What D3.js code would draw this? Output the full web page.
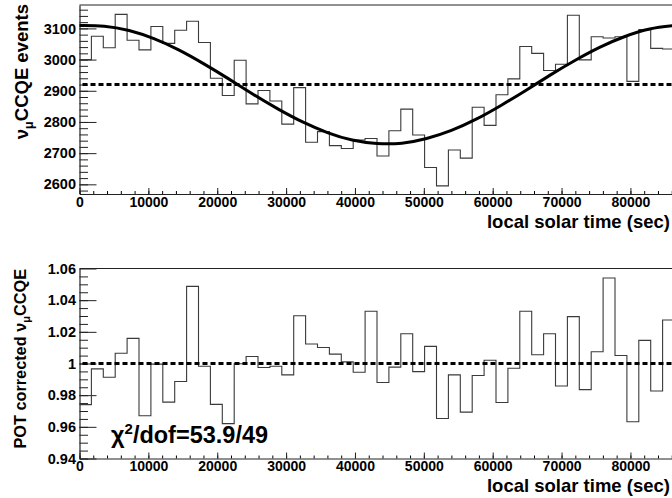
<!DOCTYPE html>
<html><head><meta charset="utf-8">
<script src="https://cdn.jsdelivr.net/npm/d3@7"></script>
<style>
html,body{margin:0;padding:0;background:#fff;overflow:hidden}
text{font-family:"Liberation Sans",Arial,Helvetica,sans-serif;font-weight:bold;fill:#000}
</style></head>
<body>
<svg id="c" width="672" height="498"></svg>
<script>
// ---- data ----
const binWidth = 1728;           // seconds per bin (86400 / 50)
const nBins = 50;
const eventsPerBin = [3000,3075,3038,3145,3062,3031,3106,3052,3094,3123,
  3055,2940,2885,2998,2858,2901,2867,2793,2910,2735,
  2769,2724,2715,2742,2747,2691,2772,2841,2758,2654,
  2595,2710,2684,2847,2789,2887,2938,3042,3020,2965,
  2985,3142,2999,3073,3069,3073,2930,3096,3036,3034];
const fitTimes = [0,3600,7200,10800,14400,18000,21600,25200,28800,32400,36000,39600,43200,
  46800,50400,54000,57600,61200,64800,68400,72000,75600,79200,82800,86400];
const fitValues = [3109,3107,3093,3067,3031,2987,2939,2889,2842,2800,2766,2742,2731,
  2732,2747,2773,2809,2853,2901,2951,2998,3040,3074,3098,3109];
const meanEvents = 2920;
const ratioPerBin = [0.974,0.9966,0.9913,1.0065,1.0159,0.967,0.9996,0.9756,0.9886,1.0487,
  0.9983,0.9742,0.962,0.9998,1.0044,0.9975,0.9983,0.9928,1.0302,1.0123,
  1.0101,1.0059,1.001,0.9945,1.033,0.988,0.9977,1.0188,0.9949,1.0108,
  0.9653,0.9928,0.9693,0.9924,1.0021,0.9754,0.997,1.033,1.0055,1.0188,
  0.9858,1.0296,0.9835,1.0074,1.054,1.0051,0.9632,1.0146,0.9826,1.0275];
const ratioRef = 1.0;
const xMajorTicks = [0,10000,20000,30000,40000,50000,60000,70000,80000];
const topYTicks = [2600,2700,2800,2900,3000,3100];
const botYTicks = [0.94,0.96,0.98,1.00,1.02,1.04,1.06];
const botYLabels = ["0.94","0.96","0.98","1","1.02","1.04","1.06"];
const chiText = {chi:"χ", sup:"2", rest:"/dof=53.9/49"};

// ---- layout ----
const svg = d3.select("#c");
const X0 = 79.5, X1 = 674.5;
const x = d3.scaleLinear().domain([0, 86400]).range([X0, X1]);
const yTop = d3.scaleLinear().domain([2569, 3175]).range([194, 5]);
const yBot = d3.scaleLinear().domain([0.94, 1.06]).range([458.5, 268.5]);

function steps(vals){
  const pts = [];
  vals.forEach((v,i)=>{ pts.push([i*binWidth, v]); pts.push([(i+1)*binWidth, v]); });
  return pts;
}

function panel(y, yTicksMajor, yMinorStep, yFmt, yBottomPx, yTopPx){
  const g = svg.append("g");
  g.append("path").attr("d", `M${X0},${yTopPx}H${X1}V${yBottomPx}`)
    .attr("fill","none").attr("stroke","#222").attr("stroke-width",1.2);
  const xMinor = d3.axisBottom(x).tickValues(d3.range(0, 86401, 2000))
    .tickSizeInner(-3).tickSizeOuter(0).tickFormat("");
  g.append("g").attr("transform",`translate(0,${yBottomPx})`).call(xMinor)
    .call(s=>s.select(".domain").remove());
  const xMajor = d3.axisBottom(x).tickValues(xMajorTicks)
    .tickSizeInner(-6).tickSizeOuter(0).tickPadding(3).tickFormat(d3.format("d"));
  const gx = g.append("g").attr("transform",`translate(0,${yBottomPx})`).call(xMajor);
  gx.select(".domain").attr("stroke","#222").attr("stroke-width",1.2);
  gx.selectAll(".tick line").attr("stroke","#222");
  gx.selectAll("text").style("font-size","14px");
  const [d0,d1] = y.domain();
  const minorVals = d3.range(Math.ceil(d0/yMinorStep-1e-9)*yMinorStep, d1, yMinorStep);
  const yMinor = d3.axisLeft(y).tickValues(minorVals).tickSizeInner(-8.5).tickSizeOuter(0).tickFormat("");
  g.append("g").attr("transform",`translate(${X0},0)`).call(yMinor)
    .call(s=>s.select(".domain").remove())
    .selectAll("line").attr("stroke","#222");
  const yMajor = d3.axisLeft(y).tickValues(yTicksMajor).tickSizeInner(-17).tickSizeOuter(0)
    .tickPadding(3.5).tickFormat(yFmt);
  const gy = g.append("g").attr("transform",`translate(${X0},0)`).call(yMajor);
  gy.select(".domain").attr("stroke","#222").attr("stroke-width",1.2);
  gy.selectAll(".tick line").attr("stroke","#222");
  gy.selectAll("text").style("font-size","14.5px");
  return g;
}

// ---- top panel ----
const gt = panel(yTop, topYTicks, 20, d3.format("d"), 194, 5);
gt.append("path").datum(steps(eventsPerBin))
  .attr("d", d3.line().x(d=>x(d[0])).y(d=>yTop(d[1])))
  .attr("fill","none").attr("stroke","#3a3a3a").attr("stroke-width",1.1);
gt.append("line").attr("x1", x(0)+3).attr("x2", X1)
  .attr("y1", yTop(meanEvents)).attr("y2", yTop(meanEvents))
  .attr("stroke","#000").attr("stroke-width",3).attr("stroke-dasharray","5,3");
gt.append("path").datum(fitTimes.map((t,i)=>[t, fitValues[i]]))
  .attr("d", d3.line().x(d=>x(d[0])).y(d=>yTop(d[1])).curve(d3.curveNatural))
  .attr("fill","none").attr("stroke","#000").attr("stroke-width",3);

// ---- bottom panel ----
const gb = panel(yBot, botYTicks, 0.005, (d,i)=>botYLabels[i], 458.5, 268.5);
gb.append("path").datum(steps(ratioPerBin))
  .attr("d", d3.line().x(d=>x(d[0])).y(d=>yBot(d[1])))
  .attr("fill","none").attr("stroke","#3a3a3a").attr("stroke-width",1.1);
gb.append("line").attr("x1", x(0)+3).attr("x2", X1)
  .attr("y1", yBot(ratioRef)).attr("y2", yBot(ratioRef))
  .attr("stroke","#000").attr("stroke-width",3).attr("stroke-dasharray","5,3");

// ---- titles ----
function xTitle(yb){
  svg.append("text").attr("x", 670).attr("y", yb).attr("text-anchor","end")
    .style("font-size","18.5px").text("local solar time (sec)");
}
xTitle(228);
xTitle(492);

const yt1 = svg.append("text").attr("transform","translate(28,4) rotate(-90)")
  .attr("text-anchor","end").style("font-size","18.5px");
yt1.append("tspan").text("ν");
yt1.append("tspan").attr("dy",4.5).style("font-size","12.5px").text("μ");
yt1.append("tspan").attr("dy",-4.5).text("CCQE events");

const yt2 = svg.append("text").attr("transform","translate(25.5,269) rotate(-90)")
  .attr("text-anchor","end").style("font-size","16.3px");
yt2.append("tspan").text("POT corrected ");
yt2.append("tspan").text("ν");
yt2.append("tspan").attr("dy",4).style("font-size","11px").text("μ");
yt2.append("tspan").attr("dy",-4).text("CCQE");

const ct = svg.append("text").attr("x", 111).attr("y", 443).style("font-size","23.5px");
ct.append("tspan").text(chiText.chi);
ct.append("tspan").attr("dy",-9).style("font-size","15px").text(chiText.sup);
ct.append("tspan").attr("dy",9).text(chiText.rest);
</script>
</body></html>
